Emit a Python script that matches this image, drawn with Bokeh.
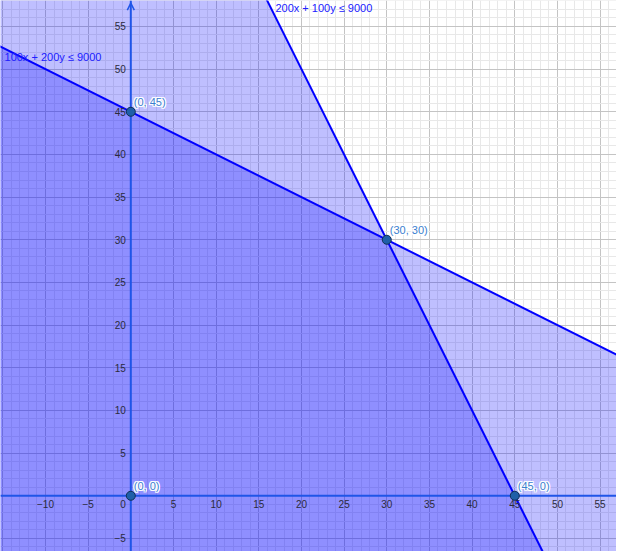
from bokeh.plotting import figure
from bokeh.models import Grid, SingleIntervalTicker, Arrow, OpenHead
from bokeh.core.properties import value
from bokeh.embed import file_html
from bokeh.resources import INLINE

# constraints: a*x + b*y <= c
con_a = [100, 200]
con_b = [200, 100]
con_c = [9000, 9000]
con_labels = ["100x + 200y \u2264 9000", "200x + 100y \u2264 9000"]
con_label_x = [-14.8, 16.95]
con_label_y = [51.4, 57.15]

# corner points of the feasible region
pt_x = [0, 0, 30, 45]
pt_y = [0, 45, 30, 0]
pt_labels = ["(0, 0)", "(0, 45)", "(30, 30)", "(45, 0)"]

# tick labels
xtick_vals = [-10, -5, 0, 5, 10, 15, 20, 25, 30, 35, 40, 45, 50, 55]
ytick_vals = [-5, 5, 10, 15, 20, 25, 30, 35, 40, 45, 50, 55]

X0, X1 = -15.27, 56.92
Y0, Y1 = -6.53, 58.04

p = figure(width=616, height=551, x_range=(X0, X1), y_range=(Y0, Y1),
           x_axis_type=None, y_axis_type=None, toolbar_location=None,
           output_backend="svg", min_border=0)
p.outline_line_color = None
p.background_fill_color = "white"

for dim in (0, 1):
    g = Grid(dimension=dim, ticker=SingleIntervalTicker(interval=5, num_minor_ticks=5))
    g.grid_line_color = "#c4c4c4"
    g.grid_line_width = 1
    g.minor_grid_line_color = "#e8e8e8"
    g.minor_grid_line_width = 1
    p.add_layout(g)

# shaded half-planes
FX0, FX1, FY0, FY1 = X0 - 2, X1 + 2, Y0 - 2, Y1 + 2
for a, b, c in zip(con_a, con_b, con_c):
    if a > b:
        xa = (c - b * FY1) / a
        xb = (c - b * FY0) / a
        poly_x = [FX0, xa, xb, FX0]
        poly_y = [FY1, FY1, FY0, FY0]
        lx, ly = [xa, xb], [FY1, FY0]
    else:
        lx = [FX0, FX1]
        ly = [(c - a * x) / b for x in lx]
        poly_x = [FX0, FX1, FX1, FX0]
        poly_y = [ly[0], ly[1], FY0, FY0]
    p.patch(poly_x, poly_y, fill_color="#0000ff", fill_alpha=0.25, line_color=None)
    p.line(lx, ly, line_color="#0000ff", line_width=2)

# axes
axis_col = "#1f55e8"
p.segment(x0=[X0, 0], y0=[0, Y0], x1=[X1, 0], y1=[0, Y1], line_color=axis_col, line_width=2)
p.add_layout(Arrow(end=OpenHead(size=7, line_color=axis_col, line_width=1.5),
                   x_start=0, y_start=Y1 - 2, x_end=0, y_end=Y1 - 0.3,
                   line_alpha=0))

font = value("Liberation Sans")
tick_col = "#2b2b3b"
xl = [v for v in xtick_vals if v != 0]
p.text(x=xl, y=[0] * len(xl), text=[("\u2212" + str(-v)) if v < 0 else str(v) for v in xl],
       text_font=font, text_font_size="10px", text_color=tick_col,
       text_align="center", text_baseline="top", y_offset=4)
p.text(x=[0], y=[0], text=["0"], text_font=font, text_font_size="10px", text_color=tick_col,
       text_align="right", text_baseline="top", x_offset=-5, y_offset=4)
p.text(x=[0] * len(ytick_vals), y=ytick_vals,
       text=[("\u2212" + str(-v)) if v < 0 else str(v) for v in ytick_vals],
       text_font=font, text_font_size="10px", text_color=tick_col,
       text_align="right", text_baseline="middle", x_offset=-5)

# constraint labels
p.text(x=con_label_x, y=con_label_y, text=con_labels, text_font=font,
       text_font_size="11px", text_color="#2020ff", text_align="left", text_baseline="middle")

# points
p.scatter(pt_x, pt_y, size=9, fill_color="#1f5fa8", line_color="#102e55", line_width=1)

# point labels with white halo
for dx, dy in [(-1, 0), (1, 0), (0, -1), (0, 1), (-1, -1), (1, 1), (-1, 1), (1, -1)]:
    p.text(x=pt_x, y=pt_y, text=pt_labels, text_font=font, text_font_size="11px",
           text_color="white", text_align="left", text_baseline="bottom",
           x_offset=3 + dx, y_offset=-4 + dy)
p.text(x=pt_x, y=pt_y, text=pt_labels, text_font=font, text_font_size="11px",
       text_color="#3a80d0", text_align="left", text_baseline="bottom",
       x_offset=3, y_offset=-4)

open("out.html", "w").write(file_html(p, INLINE))
